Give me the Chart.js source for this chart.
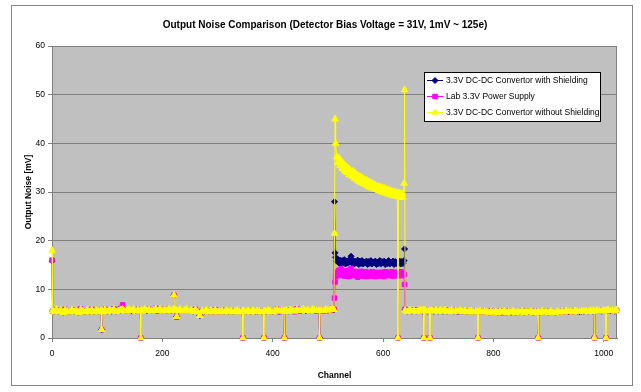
<!DOCTYPE html>
<html>
<head>
<meta charset="utf-8">
<script src="https://cdn.jsdelivr.net/npm/chart.js@4.4.1/dist/chart.umd.min.js"></script>
<style>
  html, body { margin: 0; padding: 0; background: #ffffff; }
  #wrap { width: 641px; height: 392px; }
</style>
</head>
<body>
<div id="wrap"><canvas id="noise" width="641" height="392"></canvas></div>
<script>
// Readout channel numbers (shared by all three series)
const channels = [
  0, 1, 4, 8, 12, 16, 20, 24, 28, 32,
  36, 40, 44, 48, 52, 56, 60, 64, 68, 72,
  76, 80, 84, 88, 89, 90, 91, 92, 96, 100,
  104, 108, 112, 116, 120, 124, 128, 132, 136, 140,
  144, 148, 152, 156, 160, 161, 162, 164, 168, 172,
  176, 180, 184, 188, 192, 196, 200, 204, 208, 212,
  216, 220, 221, 222, 224, 226, 228, 232, 236, 240,
  244, 248, 252, 256, 260, 264, 268, 272, 276, 280,
  284, 288, 292, 296, 300, 304, 308, 312, 316, 320,
  324, 328, 332, 336, 340, 344, 345, 346, 347, 348,
  352, 356, 360, 364, 368, 372, 376, 380, 383, 384,
  385, 388, 392, 396, 400, 404, 408, 412, 416, 420,
  421, 422, 424, 428, 432, 436, 440, 444, 448, 452,
  456, 460, 464, 468, 472, 476, 480, 484, 485, 486,
  488, 492, 496, 500, 504, 508, 511,
  512, 513, 514, 516, 518, 520, 522, 524, 526, 528,
  530, 532, 534, 536, 538, 540, 542, 544, 546, 548,
  550, 552, 554, 556, 558, 560, 562, 564, 566, 568,
  570, 572, 574, 576, 578, 580, 582, 584, 586, 588,
  590, 592, 594, 596, 598, 600, 602, 604, 606, 608,
  610, 612, 614, 616, 618, 620, 622, 624, 626, 627,
  628, 630, 632, 634, 636, 638, 639,
  640, 644, 648, 652, 656, 660, 664, 668, 672, 673,
  674, 675, 676, 680, 684, 685, 686, 688, 692, 696,
  700, 704, 708, 712, 716, 720, 724, 728, 732, 736,
  740, 744, 748, 752, 756, 760, 764, 768, 771, 772,
  773, 776, 780, 784, 788, 792, 796, 800, 804, 808,
  812, 816, 820, 824, 828, 832, 836, 840, 844, 848,
  852, 856, 860, 864, 868, 872, 876, 880, 881, 882,
  884, 888, 892, 896, 900, 904, 908, 912, 916, 920,
  924, 928, 932, 936, 940, 944, 948, 952, 956, 960,
  964, 968, 972, 976, 980, 982, 983, 984, 988, 992,
  996, 1000, 1003, 1004, 1005, 1008, 1012, 1016, 1020, 1023
];

// Output noise [mV], 3.3V DC-DC convertor with shielding
const withShielding = [
  15.8, 5.5, 5.4, 5.7, 5.5, 5.6, 5.3, 5.7, 5.5, 5.4,
  5.7, 5.5, 5.6, 5.3, 5.8, 5.5, 5.4, 5.6, 5.5, 5.7,
  5.4, 5.6, 5.5, 5.6, 5.5, 1.7, 5.5, 5.4, 5.7, 5.5,
  5.6, 5.5, 5.8, 5.5, 5.6, 5.7, 5.8, 5.6, 5.6, 5.8,
  5.6, 5.8, 5.6, 5.7, 5.6, 0, 5.7, 5.6, 5.8, 5.6,
  5.7, 5.6, 5.7, 5.9, 5.7, 5.8, 5.6, 5.7, 5.7, 5.8,
  5.7, 5.8, 8.8, 5.7, 5.7, 4.4, 5.7, 5.8, 5.6, 5.7,
  5.8, 5.6, 5.6, 5.5, 5.7, 5.4, 4.6, 5.6, 5.5, 5.6,
  5.4, 5.5, 5.5, 5.6, 5.4, 5.5, 5.5, 5.4, 5.6, 5.5,
  5.5, 5.4, 5.5, 5.6, 5.5, 5.4, 5.5, 0, 5.5, 5.5,
  5.5, 5.5, 5.4, 5.6, 5.5, 5.5, 5.5, 5.4, 5.5, 0,
  5.5, 5.5, 5.6, 5.5, 5.4, 5.6, 5.7, 5.5, 5.6, 5.6,
  0, 5.5, 5.6, 5.5, 5.7, 5.6, 5.6, 5.8, 5.6, 5.7,
  5.8, 5.6, 5.7, 5.6, 5.8, 5.7, 5.6, 5.7, 0, 5.6,
  5.7, 5.7, 5.8, 5.7, 5.8, 5.9, 5.8,
  28.0, 17.5, 16.6, 15.8, 16.2, 15.4, 16.0, 15.3, 15.9, 15.5,
  16.1, 15.2, 15.8, 15.4, 16.0, 15.6, 16.8, 15.3, 15.9, 15.2,
  15.7, 15.4, 16.0, 15.1, 15.8, 15.3, 15.9, 15.2, 15.6, 15.4,
  15.8, 15.1, 15.7, 15.3, 15.9, 15.2, 15.6, 15.4, 15.8, 15.1,
  15.6, 15.3, 15.9, 15.2, 15.7, 15.4, 15.8, 15.1, 15.6, 15.3,
  15.9, 15.2, 15.6, 15.4, 15.8, 15.1, 15.7, 15.3, 15.6, 0,
  15.4, 15.8, 15.2, 15.7, 15.3, 15.9, 18.3,
  5.8, 5.5, 5.7, 5.5, 5.6, 5.5, 5.6, 5.7, 5.5, 5.6,
  0, 5.6, 5.7, 5.5, 5.6, 0, 5.6, 5.7, 5.5, 5.6,
  5.5, 5.6, 5.5, 5.7, 5.5, 5.6, 5.6, 5.5, 5.6, 5.5,
  5.6, 5.5, 5.5, 5.4, 5.5, 5.5, 5.4, 5.5, 5.4, 0,
  5.4, 5.4, 5.4, 5.4, 5.4, 5.3, 5.4, 5.4, 5.4, 5.3,
  5.4, 5.4, 5.4, 5.3, 5.4, 5.3, 5.4, 5.3, 5.4, 5.4,
  5.4, 5.3, 5.4, 5.4, 5.4, 5.3, 5.4, 5.4, 0, 5.4,
  5.3, 5.4, 5.4, 5.4, 5.3, 5.4, 5.4, 5.3, 5.4, 5.4,
  5.4, 5.4, 5.5, 5.4, 5.5, 5.4, 5.5, 5.5, 5.4, 5.5,
  5.5, 5.6, 5.5, 5.6, 5.5, 5.6, 0, 5.5, 5.6, 5.6,
  5.5, 5.6, 5.6, 0, 5.6, 5.7, 5.6, 5.6, 5.5, 5.7
];

// Output noise [mV], lab 3.3V power supply
const labSupply = [
  16.0, 5.5, 5.4, 5.8, 5.5, 5.6, 5.3, 5.9, 5.5, 5.4,
  5.7, 5.5, 5.7, 5.3, 6.0, 5.5, 5.4, 5.6, 5.5, 5.9,
  5.4, 5.6, 5.5, 5.7, 5.5, 1.7, 5.5, 5.4, 5.9, 5.5,
  5.6, 5.6, 6.0, 5.5, 5.7, 6.1, 6.8, 5.6, 5.8, 5.8,
  5.7, 5.8, 5.6, 5.9, 5.5, 0, 5.8, 5.6, 5.8, 5.7,
  5.9, 5.6, 5.8, 6.1, 5.5, 5.8, 5.6, 5.9, 5.7, 5.8,
  5.7, 5.8, 8.8, 5.7, 5.7, 4.3, 5.5, 5.8, 5.6, 5.6,
  5.8, 5.6, 5.6, 5.5, 5.9, 5.4, 4.7, 5.5, 5.5, 5.6,
  5.4, 5.5, 5.5, 5.8, 5.4, 5.4, 5.7, 5.4, 5.6, 5.5,
  5.5, 5.4, 5.6, 5.6, 5.5, 5.4, 5.4, 0, 5.5, 5.5,
  5.5, 5.5, 5.4, 5.6, 5.5, 5.5, 5.6, 5.4, 5.5, 0,
  5.5, 5.5, 5.6, 5.6, 5.4, 5.5, 5.9, 5.4, 5.8, 5.5,
  0, 5.6, 5.6, 5.5, 5.7, 5.7, 5.4, 6.0, 5.5, 5.8,
  5.8, 5.7, 5.7, 5.6, 5.8, 5.8, 5.5, 5.8, 0, 5.7,
  5.9, 5.5, 5.8, 5.8, 5.7, 6.1, 5.9,
  8.2, 11.5, 12.6, 13.5, 12.8, 13.9, 13.0, 14.2, 12.9, 13.6,
  12.7, 13.8, 13.1, 13.5, 12.6, 14.0, 14.3, 13.2, 12.8, 13.7,
  12.9, 13.6, 12.5, 13.4, 13.0, 13.7, 12.7, 13.3, 12.9, 13.6,
  12.6, 13.5, 13.0, 13.3, 12.7, 13.6, 12.9, 13.4, 12.6, 13.5,
  13.0, 13.4, 12.7, 13.5, 12.9, 13.3, 12.6, 13.6, 13.0, 13.5,
  12.8, 13.4, 13.0, 13.6, 12.7, 13.3, 12.9, 13.5, 12.8, 0,
  13.4, 12.9, 13.6, 12.8, 13.5, 13.0, 11.0,
  5.9, 5.5, 5.7, 5.6, 5.8, 5.5, 5.7, 5.7, 5.6, 5.6,
  0, 5.7, 5.7, 5.6, 5.8, 0, 5.5, 5.9, 5.6, 5.6,
  5.5, 5.6, 5.6, 5.7, 5.5, 5.7, 5.6, 5.5, 5.7, 5.4,
  5.6, 5.5, 5.5, 5.4, 5.6, 5.5, 5.4, 5.6, 5.5, 0,
  5.5, 5.4, 5.4, 5.6, 5.3, 5.3, 5.6, 5.4, 5.3, 5.3,
  5.5, 5.2, 5.4, 5.3, 5.5, 5.4, 5.4, 5.3, 5.3, 5.4,
  5.4, 5.3, 5.5, 5.4, 5.4, 5.3, 5.5, 5.4, 0, 5.3,
  5.3, 5.4, 5.4, 5.5, 5.3, 5.4, 5.4, 5.3, 5.4, 5.4,
  5.6, 5.4, 5.5, 5.5, 5.4, 5.4, 5.5, 5.6, 5.5, 5.5,
  5.6, 5.5, 5.5, 5.6, 5.6, 5.5, 0, 5.6, 5.6, 5.7,
  5.6, 5.6, 5.5, 0, 5.7, 5.7, 5.7, 5.6, 5.6, 5.7
];

// Output noise [mV], 3.3V DC-DC convertor without shielding
const withoutShielding = [
  18.0, 5.6, 5.3, 5.9, 5.4, 5.7, 5.2, 5.8, 5.5, 5.3,
  5.8, 5.4, 5.6, 5.2, 5.9, 5.5, 5.3, 5.7, 5.4, 5.8,
  5.3, 5.7, 5.5, 5.6, 5.4, 1.7, 5.6, 5.3, 5.8, 5.4,
  5.7, 5.5, 5.9, 5.4, 5.6, 5.8, 5.9, 5.5, 5.7, 5.9,
  5.6, 5.9, 5.5, 5.8, 5.6, 0, 5.7, 5.5, 5.9, 5.6,
  5.8, 5.5, 5.7, 6.0, 5.6, 5.9, 5.5, 5.8, 5.6, 5.9,
  5.6, 5.9, 8.8, 5.6, 5.8, 4.4, 5.6, 5.9, 5.5, 5.7,
  5.9, 5.5, 5.7, 5.4, 5.8, 5.3, 4.6, 5.6, 5.4, 5.7,
  5.3, 5.6, 5.4, 5.7, 5.3, 5.5, 5.6, 5.3, 5.7, 5.4,
  5.6, 5.3, 5.5, 5.7, 5.4, 5.3, 5.5, 0, 5.4, 5.6,
  5.4, 5.6, 5.3, 5.7, 5.4, 5.6, 5.5, 5.3, 5.4, 0,
  5.6, 5.4, 5.7, 5.5, 5.3, 5.6, 5.8, 5.5, 5.7, 5.6,
  0, 5.5, 5.7, 5.4, 5.8, 5.6, 5.5, 5.9, 5.6, 5.7,
  5.9, 5.6, 5.8, 5.5, 5.9, 5.7, 5.6, 5.7, 0, 5.6,
  5.8, 5.6, 5.9, 5.7, 5.8, 6.0, 5.8,
  21.5, 45.0, 40.0, 37.2, 36.0, 37.0, 35.4, 36.3, 34.8, 35.9,
  34.3, 35.4, 34.0, 35.0, 33.5, 34.6, 33.9, 33.2, 34.3, 32.8,
  33.8, 32.5, 33.4, 32.2, 33.2, 31.9, 32.9, 31.7, 32.6, 31.5,
  32.4, 31.2, 32.1, 31.0, 31.9, 30.8, 31.7, 30.6, 31.4, 30.5,
  31.2, 30.3, 31.1, 30.1, 30.9, 29.9, 30.8, 29.8, 30.6, 29.6,
  30.4, 29.5, 30.3, 29.3, 30.1, 29.2, 30.0, 29.1, 29.9, 0,
  29.0, 29.8, 28.9, 29.7, 28.9, 31.8, 51.0,
  5.7, 5.4, 5.8, 5.5, 5.7, 5.4, 5.6, 5.8, 5.5, 5.7,
  0, 5.6, 5.8, 5.5, 5.7, 0, 5.6, 5.8, 5.5, 5.7,
  5.4, 5.7, 5.5, 5.8, 5.4, 5.6, 5.7, 5.4, 5.6, 5.5,
  5.7, 5.4, 5.6, 5.3, 5.5, 5.6, 5.3, 5.5, 5.4, 0,
  5.4, 5.5, 5.3, 5.5, 5.4, 5.2, 5.5, 5.3, 5.4, 5.2,
  5.4, 5.3, 5.5, 5.2, 5.4, 5.3, 5.5, 5.2, 5.4, 5.3,
  5.5, 5.2, 5.4, 5.3, 5.5, 5.2, 5.4, 5.3, 0, 5.4,
  5.2, 5.5, 5.3, 5.4, 5.2, 5.5, 5.3, 5.2, 5.5, 5.3,
  5.5, 5.3, 5.6, 5.4, 5.5, 5.3, 5.6, 5.5, 5.4, 5.6,
  5.5, 5.6, 5.4, 5.7, 5.5, 5.6, 0, 5.5, 5.7, 5.6,
  5.5, 5.7, 5.6, 0, 5.6, 5.8, 5.6, 5.7, 5.5, 5.8
];

const seriesNames = [
  '3.3V DC-DC Convertor with Shielding',
  'Lab 3.3V Power Supply',
  '3.3V DC-DC Convertor without Shielding'
];
const xTickValues = [0, 200, 400, 600, 800, 1000];
const yTickValues = [0, 10, 20, 30, 40, 50, 60];

const FONT = '"Liberation Sans", Arial, sans-serif';
const toPoints = vals => channels.map((c, i) => ({ x: c, y: vals[i] }));

const styles = [
  { color: '#000080', pointStyle: 'rectRot', radius: 3, order: 2 },
  { color: '#ff00ff', pointStyle: 'rect', radius: 3.2, order: 1 },
  { color: '#ffff00', pointStyle: 'triangle', radius: 3.8, order: 0 }
];
const seriesValues = [withShielding, labSupply, withoutShielding];

const datasets = seriesNames.map((name, i) => ({
  label: name,
  data: toPoints(seriesValues[i]),
  borderColor: styles[i].color,
  backgroundColor: styles[i].color,
  pointBackgroundColor: styles[i].color,
  pointBorderColor: styles[i].color,
  pointBorderWidth: 1,
  pointStyle: styles[i].pointStyle,
  pointRadius: styles[i].radius,
  borderWidth: 1,
  tension: 0,
  clip: false,
  order: styles[i].order
}));

// Chart frame, plot background, title and legend box
const decorations = {
  id: 'decorations',
  beforeDraw(chart) {
    const { ctx, chartArea: a } = chart;
    ctx.save();
    ctx.fillStyle = '#ffffff';
    ctx.fillRect(0, 0, chart.width, chart.height);
    ctx.strokeStyle = '#858585';
    ctx.lineWidth = 1;
    ctx.strokeRect(11.5, 5.5, 621, 380);
    ctx.fillStyle = '#c0c0c0';
    ctx.fillRect(a.left, a.top, a.right - a.left, a.bottom - a.top);
    ctx.fillStyle = '#000000';
    ctx.font = 'bold 10px ' + FONT;
    ctx.textAlign = 'center';
    ctx.textBaseline = 'middle';
    ctx.fillText('Output Noise Comparison (Detector Bias Voltage = 31V, 1mV ~ 125e)', 325, 25);
    ctx.restore();
  },
  beforeDatasetsDraw(chart) {
    const { ctx, chartArea: a } = chart;
    ctx.save();
    ctx.strokeStyle = '#808080';
    ctx.lineWidth = 1;
    ctx.strokeRect(Math.round(a.left) + 0.5, Math.round(a.top) + 0.5,
      Math.round(a.right - a.left) - 1, Math.round(a.bottom - a.top));
    ctx.restore();
  },
  afterDraw(chart) {
    const { ctx } = chart;
    const box = { x: 424.5, y: 72.5, w: 176, h: 49 };
    const rows = [80.5, 96.5, 112.5];
    ctx.save();
    ctx.fillStyle = '#ffffff';
    ctx.fillRect(box.x, box.y, box.w, box.h);
    ctx.strokeStyle = '#000000';
    ctx.lineWidth = 1;
    ctx.strokeRect(box.x, box.y, box.w, box.h);
    ctx.font = '8.5px ' + FONT;
    ctx.textAlign = 'left';
    ctx.textBaseline = 'middle';
    chart.data.datasets.forEach((ds, i) => {
      const y = rows[i];
      ctx.strokeStyle = ds.borderColor;
      ctx.lineWidth = 1;
      ctx.beginPath();
      ctx.moveTo(427, y);
      ctx.lineTo(443, y);
      ctx.stroke();
      ctx.fillStyle = ds.pointBackgroundColor;
      ctx.strokeStyle = ds.pointBorderColor;
      Chart.helpers.drawPoint(ctx, {
        pointStyle: ds.pointStyle, radius: Math.min(ds.pointRadius, 3.4), rotation: 0, borderWidth: 1
      }, 435, y);
      ctx.fillStyle = '#000000';
      ctx.fillText(ds.label, 446, y + 0.5);
    });
    ctx.restore();
  }
};

new Chart(document.getElementById('noise'), {
  type: 'line',
  data: { datasets },
  plugins: [decorations],
  options: {
    responsive: false,
    animation: false,
    events: [],
    layout: { padding: { left: 10, right: 24, top: 46, bottom: 8 } },
    plugins: {
      legend: { display: false },
      title: { display: false },
      tooltip: { enabled: false }
    },
    scales: {
      x: {
        type: 'linear',
        min: 0,
        max: 1024,
        afterBuildTicks(scale) { scale.ticks = xTickValues.map(v => ({ value: v })); },
        afterFit(scale) { scale.height = 46; },
        ticks: {
          font: { size: 8.5, family: FONT }, color: '#000000', padding: 7,
          maxRotation: 0, autoSkip: false, callback: v => String(v)
        },
        grid: { drawOnChartArea: false, color: '#808080', tickLength: 4 },
        border: { display: true, color: '#808080' },
        title: {
          display: true, text: 'Channel', color: '#000000',
          font: { size: 8.5, weight: 'bold', family: FONT },
          padding: { top: 0, bottom: 3 }
        }
      },
      y: {
        min: 0,
        max: 60,
        afterBuildTicks(scale) { scale.ticks = yTickValues.map(v => ({ value: v })); },
        afterFit(scale) { scale.width = 42; },
        ticks: { font: { size: 8.5, family: FONT }, color: '#000000', padding: 3 },
        grid: { color: '#808080', lineWidth: 1, tickLength: 4 },
        border: { display: true, color: '#808080' },
        title: {
          display: true, text: 'Output Noise [mV]', color: '#000000',
          font: { size: 8.5, weight: 'bold', family: FONT },
          padding: { top: 14, bottom: 0 }
        }
      }
    }
  }
});
</script>
</body>
</html>
